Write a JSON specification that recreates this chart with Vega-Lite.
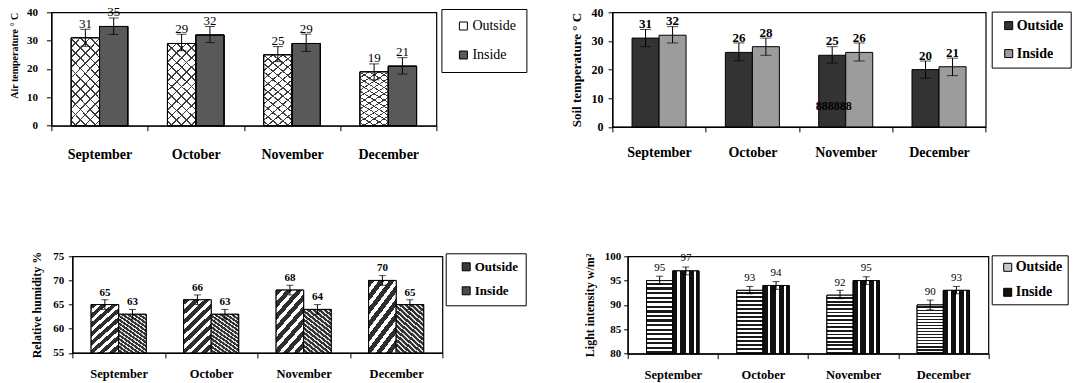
{
  "$schema": "https://vega.github.io/schema/vega-lite/v6.json",
  "background": "white",
  "padding": {"left": 7.4, "top": 5.3, "right": 0, "bottom": 0},
  "datasets": {
    "air": [
      {"month": "September", "group": "Outside", "v": 31, "lo": 28, "hi": 34},
      {"month": "September", "group": "Inside", "v": 35, "lo": 32.2, "hi": 38},
      {"month": "October", "group": "Outside", "v": 29, "lo": 26.4, "hi": 32.3},
      {"month": "October", "group": "Inside", "v": 32, "lo": 29.3, "hi": 35},
      {"month": "November", "group": "Outside", "v": 25, "lo": 22.6, "hi": 27.9},
      {"month": "November", "group": "Inside", "v": 29, "lo": 26.2, "hi": 32.3},
      {"month": "December", "group": "Outside", "v": 19, "lo": 16.2, "hi": 21.8},
      {"month": "December", "group": "Inside", "v": 21, "lo": 18.2, "hi": 24}
    ],
    "soil": [
      {"month": "September", "group": "Outside", "v": 31, "lo": 28, "hi": 34},
      {"month": "September", "group": "Inside", "v": 32, "lo": 29.3, "hi": 35},
      {"month": "October", "group": "Outside", "v": 26, "lo": 23.1, "hi": 29.3},
      {"month": "October", "group": "Inside", "v": 28, "lo": 25, "hi": 31},
      {"month": "November", "group": "Outside", "v": 25, "lo": 22.3, "hi": 28},
      {"month": "November", "group": "Inside", "v": 26, "lo": 23, "hi": 29.3},
      {"month": "December", "group": "Outside", "v": 20, "lo": 17, "hi": 23},
      {"month": "December", "group": "Inside", "v": 21, "lo": 17.9, "hi": 24}
    ],
    "soilnote": [{"month": "November", "v": 7.4, "t": "888888"}],
    "rh": [
      {"month": "September", "group": "Outside", "v": 65, "lo": 64, "hi": 66},
      {"month": "September", "group": "Inside", "v": 63, "lo": 62, "hi": 64},
      {"month": "October", "group": "Outside", "v": 66, "lo": 65, "hi": 67},
      {"month": "October", "group": "Inside", "v": 63, "lo": 62, "hi": 64},
      {"month": "November", "group": "Outside", "v": 68, "lo": 67, "hi": 69},
      {"month": "November", "group": "Inside", "v": 64, "lo": 63, "hi": 65},
      {"month": "December", "group": "Outside", "v": 70, "lo": 69, "hi": 71},
      {"month": "December", "group": "Inside", "v": 65, "lo": 64, "hi": 66}
    ],
    "light": [
      {"month": "September", "group": "Outside", "v": 95, "lo": 94.2, "hi": 95.9},
      {"month": "September", "group": "Inside", "v": 97, "lo": 96.2, "hi": 97.8},
      {"month": "October", "group": "Outside", "v": 93, "lo": 92.3, "hi": 93.8},
      {"month": "October", "group": "Inside", "v": 94, "lo": 93.2, "hi": 94.8},
      {"month": "November", "group": "Outside", "v": 92, "lo": 91.3, "hi": 93},
      {"month": "November", "group": "Inside", "v": 95, "lo": 94.2, "hi": 95.8},
      {"month": "December", "group": "Outside", "v": 90, "lo": 89, "hi": 91},
      {"month": "December", "group": "Inside", "v": 93, "lo": 92.3, "hi": 93.8}
    ]
  },
  "config": {
    "font": "Liberation Serif",
    "view": {"stroke": "black", "strokeWidth": 1.2},
    "axis": {"grid": false, "domainColor": "black", "domainWidth": 1.2, "tickColor": "black", "tickWidth": 1, "labelColor": "black", "titleColor": "black", "labelFont": "Liberation Serif", "titleFont": "Liberation Serif", "labelFontWeight": "bold", "titleFontWeight": "bold", "labelOverlap": false, "labelSeparation": -1000, "labelBound": false},
    "axisY": {"labelOverlap": false, "labelSeparation": -1000, "labelBound": false},
    "legend": {"labelFont": "Liberation Serif", "labelColor": "black", "strokeColor": "black", "fillColor": "white", "symbolType": "square", "symbolStrokeColor": "black", "symbolStrokeWidth": 1, "symbolSize": 64}
  },
  "spacing": 87,
  "resolve": {"scale": {"x": "independent", "y": "independent", "xOffset": "independent", "fill": "independent"}, "axis": {"x": "independent", "y": "independent"}, "legend": {"fill": "independent"}},
  "vconcat": [
    {
      "hconcat": [
        {"width": 1, "height": 1, "data": {"values": []}, "mark": "point", "view": {"stroke": null}},
        {
          "hconcat": [
            {
              "width": 385, "height": 113.4,
              "data": {"name": "air"},
              "encoding": {
                "x": {"field": "month", "type": "nominal", "scale": {"domain": ["September", "October", "November", "December"], "paddingInner": 0, "paddingOuter": 0}, "axis": {"title": null, "labelAngle": 0, "tickBand": "extent", "tickSize": 5, "labelPadding": 17, "labelFontSize": 14}},
                "xOffset": {"field": "group", "type": "nominal", "scale": {"domain": ["Outside", "Inside"], "paddingInner": 0, "paddingOuter": 0.7}}
              },
              "layer": [
                {"mark": {"type": "bar", "stroke": "black", "strokeWidth": 1},
                 "encoding": {
                   "y": {"field": "v", "type": "quantitative", "scale": {"domain": [0, 40], "nice": false}, "axis": {"title": "Air temperature ° C", "values": [0, 10, 20, 30, 40], "tickCount": 5, "labelOverlap": false, "labelSeparation": -1000, "labelBound": false, "tickSize": 5, "labelPadding": 9, "labelFontSize": 11, "titleFontSize": 10, "titlePadding": 7, "titleAnchor": "end"}},
                   "fill": {"field": "group", "type": "nominal", "scale": {"domain": ["Outside", "Inside"], "range": ["#ffffff", "#595959"]}, "legend": {"title": null, "orient": "none", "legendX": 390, "legendY": -3.3, "padding": 10, "rowPadding": 15, "symbolOffset": 5, "labelOffset": 2, "labelFontSize": 14, "labelFontWeight": "normal"}}
                 }},
                {"mark": {"type": "bar", "stroke": "black", "strokeWidth": 1},
                 "encoding": {
                   "y": {"field": "v", "type": "quantitative"},
                   "fill": {"condition": {"test": "datum.group === 'Outside'", "value": {"gradient": "linear", "x1": 0, "y1": 0, "x2": 1, "y2": 3, "stops": [{"offset":0,"color":"#ffffff"},{"offset":0.029,"color":"#ffffff"},{"offset":0.029,"color":"#3c3c3c"},{"offset":0.035,"color":"#3c3c3c"},{"offset":0.035,"color":"#ffffff"},{"offset":0.064,"color":"#ffffff"},{"offset":0.064,"color":"#3c3c3c"},{"offset":0.07,"color":"#3c3c3c"},{"offset":0.07,"color":"#ffffff"},{"offset":0.099,"color":"#ffffff"},{"offset":0.099,"color":"#3c3c3c"},{"offset":0.105,"color":"#3c3c3c"},{"offset":0.105,"color":"#ffffff"},{"offset":0.134,"color":"#ffffff"},{"offset":0.134,"color":"#3c3c3c"},{"offset":0.14,"color":"#3c3c3c"},{"offset":0.14,"color":"#ffffff"},{"offset":0.169,"color":"#ffffff"},{"offset":0.169,"color":"#3c3c3c"},{"offset":0.175,"color":"#3c3c3c"},{"offset":0.175,"color":"#ffffff"},{"offset":0.204,"color":"#ffffff"},{"offset":0.204,"color":"#3c3c3c"},{"offset":0.21,"color":"#3c3c3c"},{"offset":0.21,"color":"#ffffff"},{"offset":0.239,"color":"#ffffff"},{"offset":0.239,"color":"#3c3c3c"},{"offset":0.245,"color":"#3c3c3c"},{"offset":0.245,"color":"#ffffff"},{"offset":0.274,"color":"#ffffff"},{"offset":0.274,"color":"#3c3c3c"},{"offset":0.28,"color":"#3c3c3c"},{"offset":0.28,"color":"#ffffff"},{"offset":0.309,"color":"#ffffff"},{"offset":0.309,"color":"#3c3c3c"},{"offset":0.315,"color":"#3c3c3c"},{"offset":0.315,"color":"#ffffff"},{"offset":0.344,"color":"#ffffff"},{"offset":0.344,"color":"#3c3c3c"},{"offset":0.35,"color":"#3c3c3c"},{"offset":0.35,"color":"#ffffff"},{"offset":0.379,"color":"#ffffff"},{"offset":0.379,"color":"#3c3c3c"},{"offset":0.385,"color":"#3c3c3c"},{"offset":0.385,"color":"#ffffff"},{"offset":0.414,"color":"#ffffff"},{"offset":0.414,"color":"#3c3c3c"},{"offset":0.42,"color":"#3c3c3c"},{"offset":0.42,"color":"#ffffff"},{"offset":1,"color":"#ffffff"}]}}, "value": null}
                 }},
                {"mark": {"type": "bar", "stroke": "black", "strokeWidth": 1},
                 "encoding": {
                   "y": {"field": "v", "type": "quantitative"},
                   "fill": {"condition": {"test": "datum.group === 'Outside'", "value": {"gradient": "linear", "x1": 1, "y1": 0, "x2": 0, "y2": 3, "stops": [{"offset":0,"color":"rgba(0,0,0,0)"},{"offset":0.029,"color":"rgba(0,0,0,0)"},{"offset":0.029,"color":"#3c3c3c"},{"offset":0.035,"color":"#3c3c3c"},{"offset":0.035,"color":"rgba(0,0,0,0)"},{"offset":0.064,"color":"rgba(0,0,0,0)"},{"offset":0.064,"color":"#3c3c3c"},{"offset":0.07,"color":"#3c3c3c"},{"offset":0.07,"color":"rgba(0,0,0,0)"},{"offset":0.099,"color":"rgba(0,0,0,0)"},{"offset":0.099,"color":"#3c3c3c"},{"offset":0.105,"color":"#3c3c3c"},{"offset":0.105,"color":"rgba(0,0,0,0)"},{"offset":0.134,"color":"rgba(0,0,0,0)"},{"offset":0.134,"color":"#3c3c3c"},{"offset":0.14,"color":"#3c3c3c"},{"offset":0.14,"color":"rgba(0,0,0,0)"},{"offset":0.169,"color":"rgba(0,0,0,0)"},{"offset":0.169,"color":"#3c3c3c"},{"offset":0.175,"color":"#3c3c3c"},{"offset":0.175,"color":"rgba(0,0,0,0)"},{"offset":0.204,"color":"rgba(0,0,0,0)"},{"offset":0.204,"color":"#3c3c3c"},{"offset":0.21,"color":"#3c3c3c"},{"offset":0.21,"color":"rgba(0,0,0,0)"},{"offset":0.239,"color":"rgba(0,0,0,0)"},{"offset":0.239,"color":"#3c3c3c"},{"offset":0.245,"color":"#3c3c3c"},{"offset":0.245,"color":"rgba(0,0,0,0)"},{"offset":0.274,"color":"rgba(0,0,0,0)"},{"offset":0.274,"color":"#3c3c3c"},{"offset":0.28,"color":"#3c3c3c"},{"offset":0.28,"color":"rgba(0,0,0,0)"},{"offset":0.309,"color":"rgba(0,0,0,0)"},{"offset":0.309,"color":"#3c3c3c"},{"offset":0.315,"color":"#3c3c3c"},{"offset":0.315,"color":"rgba(0,0,0,0)"},{"offset":0.344,"color":"rgba(0,0,0,0)"},{"offset":0.344,"color":"#3c3c3c"},{"offset":0.35,"color":"#3c3c3c"},{"offset":0.35,"color":"rgba(0,0,0,0)"},{"offset":0.379,"color":"rgba(0,0,0,0)"},{"offset":0.379,"color":"#3c3c3c"},{"offset":0.385,"color":"#3c3c3c"},{"offset":0.385,"color":"rgba(0,0,0,0)"},{"offset":0.414,"color":"rgba(0,0,0,0)"},{"offset":0.414,"color":"#3c3c3c"},{"offset":0.42,"color":"#3c3c3c"},{"offset":0.42,"color":"rgba(0,0,0,0)"},{"offset":1,"color":"rgba(0,0,0,0)"}]}}, "value": null}
                 }},
                {"mark": {"type": "rule", "color": "black", "strokeWidth": 1},
                 "encoding": {"y": {"field": "lo", "type": "quantitative"}, "y2": {"field": "hi"}}},
                {"mark": {"type": "tick", "color": "black", "size": 10, "thickness": 1},
                 "encoding": {"y": {"field": "lo", "type": "quantitative"}}},
                {"mark": {"type": "tick", "color": "black", "size": 10, "thickness": 1},
                 "encoding": {"y": {"field": "hi", "type": "quantitative"}}},
                {"mark": {"type": "text", "baseline": "alphabetic", "dy": -10, "fontSize": 13, "color": "black"},
                 "encoding": {"y": {"field": "v", "type": "quantitative"}, "text": {"field": "v", "type": "quantitative"}}}
              ]
            },
            {
              "width": 373.3, "height": 114.6,
              "encoding": {
                "x": {"field": "month", "type": "nominal", "scale": {"domain": ["September", "October", "November", "December"], "paddingInner": 0, "paddingOuter": 0}, "axis": {"title": null, "labelAngle": 0, "tickBand": "extent", "tickSize": 5, "labelPadding": 14, "labelFontSize": 14}}
              },
              "layer": [
                {"data": {"name": "soil"},
                 "mark": {"type": "bar", "stroke": "black", "strokeWidth": 1},
                 "encoding": {
                   "xOffset": {"field": "group", "type": "nominal", "scale": {"domain": ["Outside", "Inside"], "paddingInner": 0, "paddingOuter": 0.727}},
                   "y": {"field": "v", "type": "quantitative", "scale": {"domain": [0, 40], "nice": false}, "axis": {"title": "Soil temperature ° C", "values": [0, 10, 20, 30, 40], "tickCount": 5, "labelOverlap": false, "labelSeparation": -1000, "labelBound": false, "tickSize": 4.3, "labelPadding": 5, "labelFontSize": 12, "titleFontSize": 13, "titlePadding": 8}},
                   "fill": {"field": "group", "type": "nominal", "scale": {"domain": ["Outside", "Inside"], "range": ["#333333", "#9c9c9c"]}, "legend": {"title": null, "orient": "none", "legendX": 379.3, "legendY": -0.7, "padding": 7, "rowPadding": 14, "symbolOffset": 3, "labelOffset": 1, "labelFontSize": 14, "labelFontWeight": "bold"}}
                 }},
                {"data": {"name": "soil"},
                 "mark": {"type": "rule", "color": "black", "strokeWidth": 1},
                 "encoding": {"xOffset": {"field": "group", "type": "nominal"}, "y": {"field": "lo", "type": "quantitative"}, "y2": {"field": "hi"}}},
                {"data": {"name": "soil"},
                 "mark": {"type": "tick", "color": "black", "size": 11, "thickness": 1},
                 "encoding": {"xOffset": {"field": "group", "type": "nominal"}, "y": {"field": "lo", "type": "quantitative"}}},
                {"data": {"name": "soil"},
                 "mark": {"type": "tick", "color": "black", "size": 11, "thickness": 1},
                 "encoding": {"xOffset": {"field": "group", "type": "nominal"}, "y": {"field": "hi", "type": "quantitative"}}},
                {"data": {"name": "soil"},
                 "mark": {"type": "text", "baseline": "alphabetic", "dy": -10, "fontSize": 13, "fontWeight": "bold", "color": "black"},
                 "encoding": {"xOffset": {"field": "group", "type": "nominal"}, "y": {"field": "v", "type": "quantitative"}, "text": {"field": "v", "type": "quantitative"}}},
                {"data": {"name": "soilnote"},
                 "mark": {"type": "text", "baseline": "middle", "dx": -12, "fontSize": 12, "fontWeight": "bold", "color": "black"},
                 "encoding": {"y": {"field": "v", "type": "quantitative"}, "text": {"field": "t", "type": "nominal"}}}
              ]
            }
          ],
          "spacing": 176,
          "bounds": "flush",
          "resolve": {"scale": {"x": "independent", "y": "independent", "xOffset": "independent", "fill": "independent"}, "axis": {"x": "independent", "y": "independent"}, "legend": {"fill": "independent"}}
        }
      ],
      "spacing": 0,
      "resolve": {"scale": {"x": "independent", "y": "independent", "xOffset": "independent", "fill": "independent"}, "axis": {"x": "independent", "y": "independent"}, "legend": {"fill": "independent"}}
    },
    {
      "hconcat": [
        {
          "hconcat": [
            {"width": 22, "height": 1, "data": {"values": []}, "mark": "point", "view": {"stroke": null}},
            {
              "width": 370, "height": 96.6,
              "data": {"name": "rh"},
              "encoding": {
                "x": {"field": "month", "type": "nominal", "scale": {"domain": ["September", "October", "November", "December"], "paddingInner": 0, "paddingOuter": 0}, "axis": {"title": null, "labelAngle": 0, "tickBand": "extent", "tickSize": 5, "labelPadding": 10, "labelFontSize": 12.5}},
                "xOffset": {"field": "group", "type": "nominal", "scale": {"domain": ["Outside", "Inside"], "paddingInner": 0, "paddingOuter": 0.68}}
              },
              "layer": [
                {"mark": {"type": "bar", "stroke": "black", "strokeWidth": 1},
                 "encoding": {
                   "y": {"field": "v", "type": "quantitative", "scale": {"domain": [55, 75], "nice": false, "zero": false}, "axis": {"title": "Relative humidity %", "values": [55, 60, 65, 70, 75], "tickCount": 5, "labelOverlap": false, "labelSeparation": -1000, "labelBound": false, "tickSize": 4, "labelPadding": 4.7, "labelFontSize": 11, "titleFontSize": 12, "titlePadding": 9}},
                   "y2": {"datum": 55},
                   "fill": {"field": "group", "type": "nominal", "scale": {"domain": ["Outside", "Inside"], "range": ["#3a3a3a", "#4a4a4a"]}, "legend": {"title": null, "orient": "none", "legendX": 373.3, "legendY": -3, "padding": 7, "rowPadding": 10, "symbolOffset": 7, "labelOffset": 2, "labelFontSize": 13, "labelFontWeight": "bold"}}
                 }},
                {"mark": {"type": "bar", "stroke": "black", "strokeWidth": 1},
                 "encoding": {
                   "y": {"field": "v", "type": "quantitative"},
                   "y2": {"datum": 55},
                   "fill": {"condition": {"test": "datum.group === 'Outside'", "value": {"gradient": "linear", "x1": 0, "y1": 0, "x2": 1, "y2": 2, "stops": [{"offset":0,"color":"#2e2e2e"},{"offset":0.042,"color":"#2e2e2e"},{"offset":0.042,"color":"#ffffff"},{"offset":0.075,"color":"#ffffff"},{"offset":0.075,"color":"#2e2e2e"},{"offset":0.117,"color":"#2e2e2e"},{"offset":0.117,"color":"#ffffff"},{"offset":0.15,"color":"#ffffff"},{"offset":0.15,"color":"#2e2e2e"},{"offset":0.192,"color":"#2e2e2e"},{"offset":0.192,"color":"#ffffff"},{"offset":0.225,"color":"#ffffff"},{"offset":0.225,"color":"#2e2e2e"},{"offset":0.267,"color":"#2e2e2e"},{"offset":0.267,"color":"#ffffff"},{"offset":0.3,"color":"#ffffff"},{"offset":0.3,"color":"#2e2e2e"},{"offset":0.342,"color":"#2e2e2e"},{"offset":0.342,"color":"#ffffff"},{"offset":0.375,"color":"#ffffff"},{"offset":0.375,"color":"#2e2e2e"},{"offset":0.417,"color":"#2e2e2e"},{"offset":0.417,"color":"#ffffff"},{"offset":0.45,"color":"#ffffff"},{"offset":0.45,"color":"#2e2e2e"},{"offset":0.492,"color":"#2e2e2e"},{"offset":0.492,"color":"#ffffff"},{"offset":0.525,"color":"#ffffff"},{"offset":0.525,"color":"#2e2e2e"},{"offset":0.567,"color":"#2e2e2e"},{"offset":0.567,"color":"#ffffff"},{"offset":0.6,"color":"#ffffff"},{"offset":0.6,"color":"#2e2e2e"},{"offset":1,"color":"#2e2e2e"}]}},
                            "value": {"gradient": "linear", "x1": 1, "y1": 0, "x2": 0, "y2": 2, "stops": [{"offset":0,"color":"#333333"},{"offset":0.025,"color":"#333333"},{"offset":0.025,"color":"#e0e0e0"},{"offset":0.04,"color":"#e0e0e0"},{"offset":0.04,"color":"#333333"},{"offset":0.065,"color":"#333333"},{"offset":0.065,"color":"#e0e0e0"},{"offset":0.08,"color":"#e0e0e0"},{"offset":0.08,"color":"#333333"},{"offset":0.105,"color":"#333333"},{"offset":0.105,"color":"#e0e0e0"},{"offset":0.12,"color":"#e0e0e0"},{"offset":0.12,"color":"#333333"},{"offset":0.145,"color":"#333333"},{"offset":0.145,"color":"#e0e0e0"},{"offset":0.16,"color":"#e0e0e0"},{"offset":0.16,"color":"#333333"},{"offset":0.185,"color":"#333333"},{"offset":0.185,"color":"#e0e0e0"},{"offset":0.2,"color":"#e0e0e0"},{"offset":0.2,"color":"#333333"},{"offset":0.225,"color":"#333333"},{"offset":0.225,"color":"#e0e0e0"},{"offset":0.24,"color":"#e0e0e0"},{"offset":0.24,"color":"#333333"},{"offset":0.265,"color":"#333333"},{"offset":0.265,"color":"#e0e0e0"},{"offset":0.28,"color":"#e0e0e0"},{"offset":0.28,"color":"#333333"},{"offset":0.305,"color":"#333333"},{"offset":0.305,"color":"#e0e0e0"},{"offset":0.32,"color":"#e0e0e0"},{"offset":0.32,"color":"#333333"},{"offset":0.345,"color":"#333333"},{"offset":0.345,"color":"#e0e0e0"},{"offset":0.36,"color":"#e0e0e0"},{"offset":0.36,"color":"#333333"},{"offset":0.385,"color":"#333333"},{"offset":0.385,"color":"#e0e0e0"},{"offset":0.4,"color":"#e0e0e0"},{"offset":0.4,"color":"#333333"},{"offset":0.425,"color":"#333333"},{"offset":0.425,"color":"#e0e0e0"},{"offset":0.44,"color":"#e0e0e0"},{"offset":0.44,"color":"#333333"},{"offset":0.465,"color":"#333333"},{"offset":0.465,"color":"#e0e0e0"},{"offset":0.48,"color":"#e0e0e0"},{"offset":0.48,"color":"#333333"},{"offset":0.505,"color":"#333333"},{"offset":0.505,"color":"#e0e0e0"},{"offset":0.52,"color":"#e0e0e0"},{"offset":0.52,"color":"#333333"},{"offset":0.545,"color":"#333333"},{"offset":0.545,"color":"#e0e0e0"},{"offset":0.56,"color":"#e0e0e0"},{"offset":0.56,"color":"#333333"},{"offset":0.585,"color":"#333333"},{"offset":0.585,"color":"#e0e0e0"},{"offset":0.6,"color":"#e0e0e0"},{"offset":0.6,"color":"#333333"},{"offset":1,"color":"#333333"}]}}
                 }},
                {"mark": {"type": "rule", "color": "black", "strokeWidth": 1},
                 "encoding": {"y": {"field": "lo", "type": "quantitative"}, "y2": {"field": "hi"}}},
                {"mark": {"type": "tick", "color": "black", "size": 7, "thickness": 1},
                 "encoding": {"y": {"field": "lo", "type": "quantitative"}}},
                {"mark": {"type": "tick", "color": "black", "size": 7, "thickness": 1},
                 "encoding": {"y": {"field": "hi", "type": "quantitative"}}},
                {"mark": {"type": "text", "baseline": "alphabetic", "dy": -9, "fontSize": 11, "fontWeight": "bold", "color": "black"},
                 "encoding": {"y": {"field": "v", "type": "quantitative"}, "text": {"field": "v", "type": "quantitative"}}}
              ]
            }
          ],
          "spacing": 0,
          "resolve": {"scale": {"x": "independent", "y": "independent", "xOffset": "independent", "fill": "independent"}, "axis": {"x": "independent", "y": "independent"}, "legend": {"fill": "independent"}}
        },
        {
          "width": 360.7, "height": 97.3,
          "data": {"name": "light"},
          "encoding": {
            "x": {"field": "month", "type": "nominal", "scale": {"domain": ["September", "October", "November", "December"], "paddingInner": 0, "paddingOuter": 0}, "axis": {"title": null, "labelAngle": 0, "tickBand": "extent", "tickSize": 5, "labelPadding": 10, "labelFontSize": 12.5}},
            "xOffset": {"field": "group", "type": "nominal", "scale": {"domain": ["Outside", "Inside"], "paddingInner": 0, "paddingOuter": 0.72}}
          },
          "layer": [
            {"mark": {"type": "bar", "stroke": "black", "strokeWidth": 1},
             "encoding": {
               "y": {"field": "v", "type": "quantitative", "scale": {"domain": [80, 100], "nice": false, "zero": false}, "axis": {"title": "Light intensity w/m²", "values": [80, 85, 90, 95, 100], "tickCount": 5, "labelOverlap": false, "labelSeparation": -1000, "labelBound": false, "tickSize": 4, "labelPadding": 3, "labelFontSize": 11, "titleFontSize": 12, "titlePadding": 8}},
               "y2": {"datum": 80},
               "fill": {"field": "group", "type": "nominal", "scale": {"domain": ["Outside", "Inside"], "range": ["#c8c8c8", "#111111"]}, "legend": {"title": null, "orient": "none", "legendX": 364, "legendY": -1, "padding": 5, "rowPadding": 11, "symbolOffset": 4, "labelOffset": 1, "labelFontSize": 14, "labelFontWeight": "bold"}}
             }},
            {"mark": {"type": "bar", "stroke": "black", "strokeWidth": 1},
             "encoding": {
               "y": {"field": "v", "type": "quantitative"},
               "y2": {"datum": 80},
               "fill": {"condition": {"test": "datum.group === 'Outside'", "value": {"gradient": "linear", "x1": 0, "y1": 0, "x2": 0, "y2": 1, "stops": [{"offset":0,"color":"#ffffff"},{"offset":0.03125,"color":"#ffffff"},{"offset":0.03125,"color":"#1a1a1a"},{"offset":0.0625,"color":"#1a1a1a"},{"offset":0.0625,"color":"#ffffff"},{"offset":0.09375,"color":"#ffffff"},{"offset":0.09375,"color":"#1a1a1a"},{"offset":0.125,"color":"#1a1a1a"},{"offset":0.125,"color":"#ffffff"},{"offset":0.15625,"color":"#ffffff"},{"offset":0.15625,"color":"#1a1a1a"},{"offset":0.1875,"color":"#1a1a1a"},{"offset":0.1875,"color":"#ffffff"},{"offset":0.21875,"color":"#ffffff"},{"offset":0.21875,"color":"#1a1a1a"},{"offset":0.25,"color":"#1a1a1a"},{"offset":0.25,"color":"#ffffff"},{"offset":0.28125,"color":"#ffffff"},{"offset":0.28125,"color":"#1a1a1a"},{"offset":0.3125,"color":"#1a1a1a"},{"offset":0.3125,"color":"#ffffff"},{"offset":0.34375,"color":"#ffffff"},{"offset":0.34375,"color":"#1a1a1a"},{"offset":0.375,"color":"#1a1a1a"},{"offset":0.375,"color":"#ffffff"},{"offset":0.40625,"color":"#ffffff"},{"offset":0.40625,"color":"#1a1a1a"},{"offset":0.4375,"color":"#1a1a1a"},{"offset":0.4375,"color":"#ffffff"},{"offset":0.46875,"color":"#ffffff"},{"offset":0.46875,"color":"#1a1a1a"},{"offset":0.5,"color":"#1a1a1a"},{"offset":0.5,"color":"#ffffff"},{"offset":0.53125,"color":"#ffffff"},{"offset":0.53125,"color":"#1a1a1a"},{"offset":0.5625,"color":"#1a1a1a"},{"offset":0.5625,"color":"#ffffff"},{"offset":0.59375,"color":"#ffffff"},{"offset":0.59375,"color":"#1a1a1a"},{"offset":0.625,"color":"#1a1a1a"},{"offset":0.625,"color":"#ffffff"},{"offset":0.65625,"color":"#ffffff"},{"offset":0.65625,"color":"#1a1a1a"},{"offset":0.6875,"color":"#1a1a1a"},{"offset":0.6875,"color":"#ffffff"},{"offset":0.71875,"color":"#ffffff"},{"offset":0.71875,"color":"#1a1a1a"},{"offset":0.75,"color":"#1a1a1a"},{"offset":0.75,"color":"#ffffff"},{"offset":0.78125,"color":"#ffffff"},{"offset":0.78125,"color":"#1a1a1a"},{"offset":0.8125,"color":"#1a1a1a"},{"offset":0.8125,"color":"#ffffff"},{"offset":0.84375,"color":"#ffffff"},{"offset":0.84375,"color":"#1a1a1a"},{"offset":0.875,"color":"#1a1a1a"},{"offset":0.875,"color":"#ffffff"},{"offset":0.90625,"color":"#ffffff"},{"offset":0.90625,"color":"#1a1a1a"},{"offset":0.9375,"color":"#1a1a1a"},{"offset":0.9375,"color":"#ffffff"},{"offset":0.96875,"color":"#ffffff"},{"offset":0.96875,"color":"#1a1a1a"},{"offset":1,"color":"#1a1a1a"}]}},
                        "value": {"gradient": "linear", "x1": 0, "y1": 0, "x2": 1, "y2": 0, "stops": [{"offset":0,"color":"#111111"},{"offset":0.18,"color":"#111111"},{"offset":0.18,"color":"#ffffff"},{"offset":0.28,"color":"#ffffff"},{"offset":0.28,"color":"#111111"},{"offset":0.5,"color":"#111111"},{"offset":0.5,"color":"#ffffff"},{"offset":0.6,"color":"#ffffff"},{"offset":0.6,"color":"#111111"},{"offset":0.8,"color":"#111111"},{"offset":0.8,"color":"#ffffff"},{"offset":0.88,"color":"#ffffff"},{"offset":0.88,"color":"#111111"},{"offset":1,"color":"#111111"}]}}
             }},
            {"mark": {"type": "rule", "color": "black", "strokeWidth": 1},
             "encoding": {"y": {"field": "lo", "type": "quantitative"}, "y2": {"field": "hi"}}},
            {"mark": {"type": "tick", "color": "black", "size": 7, "thickness": 1},
             "encoding": {"y": {"field": "lo", "type": "quantitative"}}},
            {"mark": {"type": "tick", "color": "black", "size": 7, "thickness": 1},
             "encoding": {"y": {"field": "hi", "type": "quantitative"}}},
            {"mark": {"type": "text", "baseline": "alphabetic", "dy": -9.5, "fontSize": 11, "color": "black"},
             "encoding": {"y": {"field": "v", "type": "quantitative"}, "text": {"field": "v", "type": "quantitative"}}}
          ]
        }
      ],
      "spacing": 54.3,
      "resolve": {"scale": {"x": "independent", "y": "independent", "xOffset": "independent", "fill": "independent"}, "axis": {"x": "independent", "y": "independent"}, "legend": {"fill": "independent"}}
    }
  ]
}
